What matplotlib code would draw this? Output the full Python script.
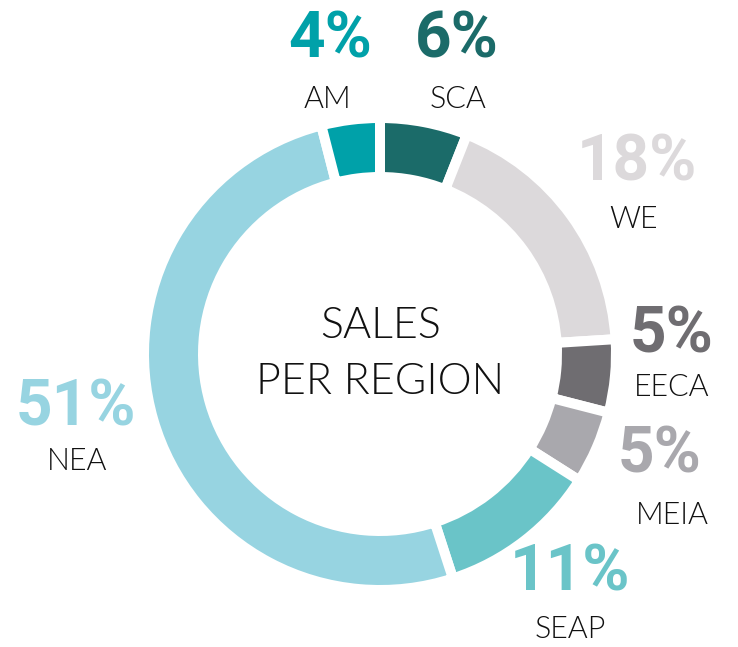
import matplotlib
matplotlib.use('Agg')
import matplotlib.pyplot as plt

# 数据
regions = ['SCA', 'WE', 'EECA', 'MEIA', 'SEAP', 'NEA', 'AM']
shares = [6, 18, 5, 5, 11, 51, 4]
colors = ['#1b6b69', '#dcd9db', '#6f6d71', '#a9a8ad', '#6ac4c8', '#97d4e1', '#00a1a9']

# 标签位置 (像素坐标, 左上原点): 百分比 / 区域名
pct_pos = [(457, 40), (637, 163), (672, 335), (660, 455), (570, 573), (76, 408), (330, 40)]
name_pos = [(458, 100), (634, 220), (672, 388), (672, 515), (570, 630), (77, 462), (327, 100)]

W, H = 738, 647
fig = plt.figure(figsize=(W / 100, H / 100), dpi=100)
ax = fig.add_axes([0, 0, 1, 1])

cx, cy = 380, H - 354
gap = 10
ax.pie(shares, colors=colors, startangle=90, counterclock=False,
       center=(cx, cy), radius=231 + gap / 2, frame=True,
       wedgeprops=dict(width=49 + gap, edgecolor='white', linewidth=gap * 0.72))
ax.set_xlim(0, W)
ax.set_ylim(0, H)
ax.set_aspect('equal')
ax.axis('off')

for r, s, c, (px, py), (nx, ny) in zip(regions, shares, colors, pct_pos, name_pos):
    ax.text(px, H - py, f'{s}%', color=c, fontsize=46, fontweight='bold',
            family='Roboto', ha='center', va='center')
    ax.text(nx, H - ny, r, color='#111111', fontsize=22, fontweight=300,
            family='Lato', ha='center', va='center')

ax.text(381, H - 327, 'SALES', fontsize=31, fontweight=300, family='Lato',
        color='#111111', ha='center', va='center')
ax.text(380, H - 383, 'PER REGION', fontsize=31, fontweight=300, family='Lato',
        color='#111111', ha='center', va='center')

plt.savefig('out.png', dpi=100)
plt.close()
